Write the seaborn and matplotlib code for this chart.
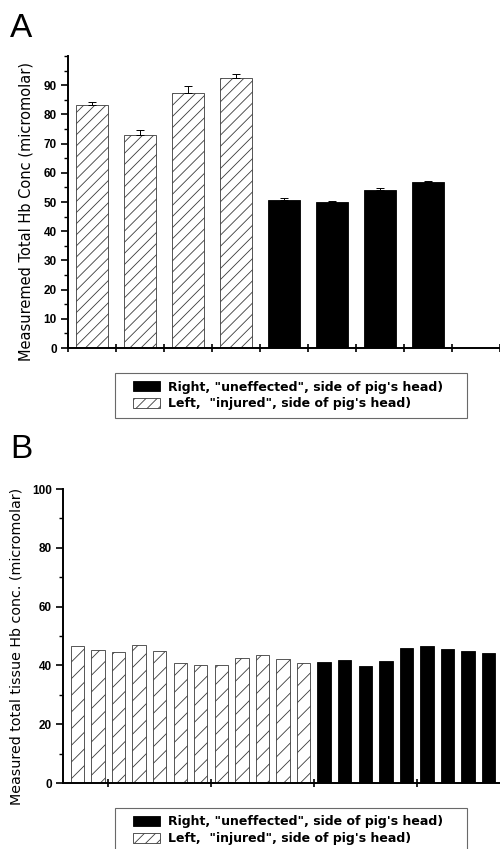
import matplotlib
matplotlib.use("Agg")
import matplotlib.pyplot as plt
from matplotlib.patches import Patch, Rectangle
from matplotlib.legend_handler import HandlerPatch
from matplotlib.ticker import MultipleLocator, FixedLocator
import seaborn as sns
import pandas as pd

# ---- data ----
a_left_vals = [83.2, 73.1, 87.4, 92.5]
a_left_err = [0.9, 1.7, 2.2, 1.2]
a_right_vals = [50.8, 49.9, 54.3, 56.7]
a_right_err = [0.6, 0.4, 0.4, 0.6]

b_left_vals = [46.7, 45.4, 44.4, 46.8, 44.8, 40.9, 40.0, 40.0, 42.4, 43.4, 42.2, 40.7]
b_right_vals = [41.3, 41.8, 39.7, 41.5, 45.8, 46.5, 45.5, 44.8, 44.3]

label_right = 'Right, "uneffected", side of pig\'s head)'
label_left = 'Left,  "injured", side of pig\'s head)'
ylabel_a = "Measuremed Total Hb Conc (micromolar)"
ylabel_b = "Measured total tissue Hb conc. (micromolar)"

sns.set_theme(style="ticks")
plt.rcParams["font.family"] = ["Liberation Sans", "DejaVu Sans"]
plt.rcParams["hatch.linewidth"] = 0.6
plt.rcParams["hatch.color"] = "black"
for k in ("text.color", "axes.labelcolor", "xtick.color", "ytick.color",
          "axes.edgecolor"):
    plt.rcParams[k] = "black"

fig = plt.figure(figsize=(5, 8.49), dpi=100)
axA = fig.add_axes([0.136, 0.590, 0.864, 0.344])
axB = fig.add_axes([0.126, 0.0777, 0.874, 0.3463])

palette = {"Left": "white", "Right": "black"}


def make_df(left, right):
    vals = list(left) + list(right)
    sides = ["Left"] * len(left) + ["Right"] * len(right)
    bars = [f"b{i:02d}" for i in range(len(vals))]
    return pd.DataFrame({"bar": bars, "val": vals, "side": sides})


def draw(ax, df, width, hatch):
    sns.barplot(data=df, x="bar", y="val", hue="side", palette=palette,
                dodge=False, width=width, edgecolor="black", linewidth=0.6,
                errorbar=None, legend=False, ax=ax, order=list(df["bar"]))
    bars = sorted([p for p in ax.patches], key=lambda p: p.get_x())
    for p in bars:
        fc = p.get_facecolor()
        if fc[0] > 0.5:
            p.set_hatch(hatch)
            p.set_edgecolor("#3a3a3a")
    return bars


# ---- Panel A ----
dfA = make_df(a_left_vals, a_right_vals)
barsA = draw(axA, dfA, 0.675, "///")
xs = [p.get_x() + p.get_width() / 2 for p in barsA]
hs = [p.get_height() for p in barsA]
errs = a_left_err + a_right_err
axA.errorbar(xs, hs, yerr=[[0] * len(errs), errs], fmt="none", ecolor="black",
             elinewidth=0.7, capsize=2.6, capthick=0.7)
axA.set_xlim(-0.5, 8.5)
axA.set_ylim(0, 100)
axA.yaxis.set_major_locator(FixedLocator(range(0, 91, 10)))
axA.yaxis.set_minor_locator(MultipleLocator(5))
axA.xaxis.set_major_locator(FixedLocator([i - 0.5 for i in range(0, 10)]))
axA.set_xticklabels([])
axA.set_xlabel("")
axA.set_ylabel(ylabel_a, fontsize=10.5, family=["DejaVu Sans"], color="black")
axA.yaxis.set_label_coords(-0.081, 0.467)

# ---- Panel B ----
dfB = make_df(b_left_vals, b_right_vals)
draw(axB, dfB, 0.65, "//")
axB.set_xlim(-0.7, 20.55)
axB.set_ylim(0, 100)
axB.yaxis.set_major_locator(MultipleLocator(20))
axB.yaxis.set_minor_locator(MultipleLocator(10))
axB.xaxis.set_major_locator(FixedLocator([1.5, 6.5, 11.5, 16.5]))
axB.set_xticklabels([])
axB.set_xlabel("")
axB.set_ylabel(ylabel_b, fontsize=10.3, family=["DejaVu Sans"], color="black")
axB.yaxis.set_label_coords(-0.0915, 0.464)

for ax in (axA, axB):
    sns.despine(ax=ax)
    ax.spines["left"].set_linewidth(1.4)
    ax.spines["bottom"].set_linewidth(1.4)
    ax.spines["left"].set_color("black")
    ax.spines["bottom"].set_color("black")
    ax.tick_params(axis="y", which="major", direction="out", length=5, width=1.2,
                   labelsize=8.5, pad=3, colors="black")
    ax.tick_params(axis="y", which="minor", direction="out", length=3, width=1.0,
                   colors="black")
    ax.tick_params(axis="x", which="major", direction="inout", length=6, width=1.2,
                   colors="black")
    for t in ax.get_yticklabels():
        t.set_fontweight("bold")


# ---- legends ----
class OffsetPatchHandler(HandlerPatch):
    def __init__(self, frac):
        super().__init__()
        self.frac = frac

    def create_artists(self, legend, orig_handle, xdescent, ydescent, width,
                       height, fontsize, trans):
        off = width * self.frac
        p = Rectangle((-xdescent + off, -ydescent), width - off, height,
                      facecolor=orig_handle.get_facecolor(),
                      edgecolor=orig_handle.get_edgecolor(),
                      hatch=orig_handle.get_hatch(), linewidth=0.6,
                      transform=trans)
        return [p]


handles = [Patch(facecolor="black", edgecolor="black", label=label_right),
           Patch(facecolor="white", edgecolor="#3a3a3a", hatch="///", label=label_left)]
hmap = {h: OffsetPatchHandler(10 / 37) for h in handles}

for y_top in (1 - 373 / 849, 1 - 808 / 849):
    leg = fig.legend(handles=handles, loc="upper left", handler_map=hmap,
                     bbox_to_anchor=(0.23, y_top - 0.2, 0.704, 0.2),
                     bbox_transform=fig.transFigure, mode="expand",
                     handlelength=2.96, handleheight=0.8,
                     handletextpad=0.72, labelspacing=0.3, borderpad=0.6,
                     borderaxespad=0, fancybox=False, frameon=True,
                     labelcolor="black",
                     prop={"weight": "bold", "size": 9, "family": ["DejaVu Sans"]})
    leg.get_frame().set_edgecolor("#444444")
    leg.get_frame().set_linewidth(0.8)

fig.text(0.02, 1 - 37 / 849, "A", fontsize=24, va="baseline", ha="left", color="black")
fig.text(0.02, 1 - 458 / 849, "B", fontsize=24, va="baseline", ha="left", color="black")

fig.savefig("out.png", dpi=100)
